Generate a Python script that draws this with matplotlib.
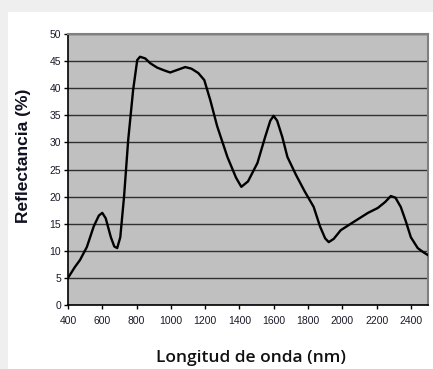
import matplotlib.pyplot as plt
from matplotlib.patches import Rectangle

# datos
longitud = [400, 440, 470, 510, 550, 580, 600, 620, 650, 670, 687, 705,
            727, 751, 780, 804, 820, 850, 880, 920, 960, 996, 1040, 1084,
            1120, 1160, 1195, 1230, 1270, 1330, 1380, 1411, 1450, 1505,
            1550, 1580, 1599, 1620, 1650, 1680, 1730, 1780, 1833, 1870,
            1900, 1921, 1950, 1991, 2050, 2100, 2150, 2207, 2250, 2283,
            2310, 2341, 2370, 2400, 2440, 2470, 2500]
reflectancia = [5.0, 7.0, 8.3, 10.7, 14.5, 16.5, 17.0, 16.0, 12.5, 10.8, 10.5, 12.5,
                20.0, 30.4, 39.7, 45.2, 45.8, 45.5, 44.6, 43.8, 43.3, 42.9, 43.4, 43.9,
                43.6, 42.8, 41.5, 37.8, 33.0, 27.3, 23.5, 21.8, 22.8, 26.2,
                31.0, 34.0, 34.9, 34.0, 31.0, 27.3, 24.0, 21.0, 18.1, 14.5,
                12.3, 11.6, 12.2, 13.8, 15.0, 16.0, 17.0, 17.9, 19.0, 20.1,
                19.8, 18.1, 15.5, 12.5, 10.5, 9.8, 9.2]

fig = plt.figure(figsize=(4.33, 3.69), dpi=100)
fig.patch.set_facecolor('#efefef')
# panel blanco
fig.add_artist(Rectangle((8 / 433, 0), 1, 1 - 12 / 369, transform=fig.transFigure,
                         facecolor='white', edgecolor='none', zorder=0))

ax = fig.add_axes([68 / 433, 1 - 305 / 369, 360 / 433, 271 / 369])
ax.set_facecolor('#c0c0c0')

ax.plot(longitud, reflectancia, color='black', linewidth=1.7, zorder=3)

ax.set_xlim(400, 2500)
ax.set_ylim(0, 50)
ax.set_xticks(range(400, 2401, 200))
ax.set_yticks(range(0, 51, 5))
ax.yaxis.grid(True, color='#303030', linewidth=1.0)
ax.set_axisbelow(True)

for s in ['left', 'bottom']:
    ax.spines[s].set_color('black')
    ax.spines[s].set_linewidth(1.2)
for s in ['top', 'right']:
    ax.spines[s].set_color('#808080')
    ax.spines[s].set_linewidth(1.5)

ax.tick_params(axis='both', direction='out', length=3, width=1, color='black',
               labelsize=7.5, pad=2)
for lab in ax.get_xticklabels() + ax.get_yticklabels():
    lab.set_fontfamily('Liberation Sans')
    lab.set_color('#1a1a2a')
ax.tick_params(axis='x', pad=5)

fig.text(24 / 433, 1 - 156 / 369, 'Reflectancia (%)', fontsize=12.5, fontweight='bold',
         family='Liberation Sans', color='#101020', rotation=90,
         ha='center', va='center')
fig.text(251 / 433, 1 - 358 / 369, 'Longitud de onda (nm)', fontsize=12.5,
         fontweight='semibold', family='Open Sans', color='#101010',
         ha='center', va='center')

fig.savefig('out.png', dpi=100)
